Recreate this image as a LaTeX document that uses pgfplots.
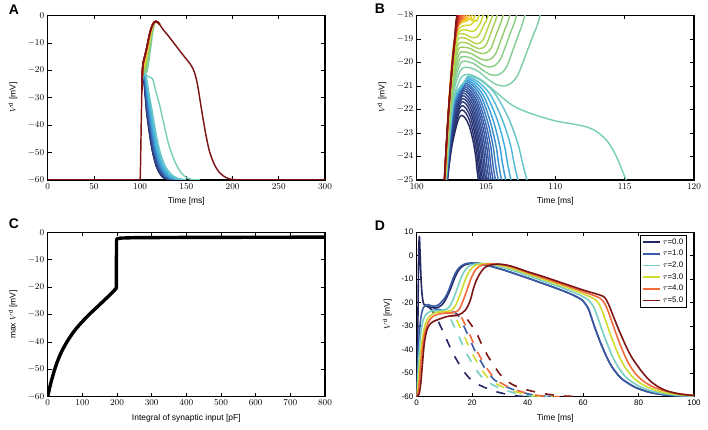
\documentclass[border=0pt]{standalone}
\usepackage{fontspec}
\setmainfont{Liberation Sans}
\usepackage{pgfplots}
\pgfplotsset{compat=1.18}
\pgfplotsset{colormap={jetlike}{rgb255(0cm)=(35,40,100) rgb255(2cm)=(58,92,168) rgb255(3.2cm)=(60,170,225) rgb255(4cm)=(118,207,192) rgb255(5cm)=(150,205,110) rgb255(6cm)=(207,220,46) rgb255(7cm)=(250,200,40) rgb255(8cm)=(242,107,58) rgb255(9cm)=(210,45,35) rgb255(10cm)=(125,20,22)}}
\pgfplotsset{
  cm/.style={color of colormap={#1 of jetlike}},
  cv/.style={smooth, tension=0.5, line width=1.45bp, line join=round},
  dv/.style={smooth, tension=0.5, line width=1.6bp, line join=round},
  panel/.style={scale only axis, width=277.3bp, height=164.5bp,
    axis line style={line width=1.3bp}, tick style={line width=0.7bp, black},
    major tick length=4bp, tick align=inside,
    label style={font=\fontsize{8.5}{10}\selectfont},
    tick label style={font=\fontsize{9}{10}\selectfont},
    xlabel style={at={(axis description cs:0.5,-0.132)}, anchor=center},
    ylabel style={at={(axis description cs:-0.125,0.5)}, anchor=center}},
}
\newcommand{\curvesAB}{%
\addplot[cv, cm=0] coordinates {(101.85,-27.5) (102.22,-25) (102.52,-23.63) (102.82,-22.8) (103.05,-22.36) (103.25,-22.25) (103.49,-22.36) (103.78,-22.69) (104.07,-23.35) (104.27,-24.07) (104.45,-25) (105.70,-30) (106.95,-35) (108.85,-40) (110.95,-45) (113.55,-50) (117.45,-55) (121.95,-58) (125.95,-59.3) (134.45,-60)};
\addplot[cv, cm=22] coordinates {(101.85,-27.5) (102.21,-25) (102.51,-23.51) (102.81,-22.62) (103.07,-22.14) (103.27,-22.02) (103.53,-22.14) (103.83,-22.50) (104.14,-23.21) (104.36,-23.99) (104.55,-25) (105.84,-30) (107.13,-35) (109.04,-40) (111.16,-45) (113.79,-50) (117.73,-55) (122.3,-58) (126.35,-59.3) (134.9,-60)};
\addplot[cv, cm=44] coordinates {(101.85,-27.5) (102.20,-25) (102.50,-23.42) (102.80,-22.46) (103.09,-21.96) (103.29,-21.83) (103.56,-21.96) (103.89,-22.34) (104.22,-23.10) (104.45,-23.92) (104.65,-25) (105.97,-30) (107.30,-35) (109.23,-40) (111.37,-45) (114.02,-50) (118.00,-55) (122.64,-58) (126.75,-59.3) (135.33,-60)};
\addplot[cv, cm=66] coordinates {(101.85,-27.5) (102.19,-25) (102.49,-23.34) (102.79,-22.34) (103.11,-21.80) (103.31,-21.67) (103.60,-21.80) (103.94,-22.20) (104.29,-23.00) (104.53,-23.87) (104.75,-25) (106.10,-30) (107.47,-35) (109.43,-40) (111.58,-45) (114.25,-50) (118.28,-55) (122.98,-58) (127.15,-59.3) (135.78,-60)};
\addplot[cv, cm=88] coordinates {(101.85,-27.5) (102.18,-25) (102.48,-23.27) (102.78,-22.22) (103.13,-21.67) (103.33,-21.53) (103.64,-21.67) (104.00,-22.09) (104.37,-22.92) (104.63,-23.82) (104.86,-25) (106.25,-30) (107.66,-35) (109.63,-40) (111.81,-45) (114.51,-50) (118.59,-55) (123.36,-58) (127.59,-59.3) (136.26,-60)};
\addplot[cv, cm=110] coordinates {(101.85,-27.5) (102.17,-25) (102.47,-23.21) (102.77,-22.13) (103.15,-21.55) (103.35,-21.41) (103.67,-21.55) (104.06,-21.98) (104.45,-22.85) (104.73,-23.78) (104.97,-25) (106.40,-30) (107.86,-35) (109.85,-40) (112.04,-45) (114.77,-50) (118.89,-55) (123.74,-58) (128.04,-59.3) (136.76,-60)};
\addplot[cv, cm=132] coordinates {(101.85,-27.5) (102.16,-25) (102.46,-23.15) (102.76,-22.04) (103.17,-21.45) (103.37,-21.30) (103.71,-21.45) (104.13,-21.89) (104.54,-22.78) (104.83,-23.74) (105.09,-25) (106.56,-30) (108.07,-35) (110.08,-40) (112.29,-45) (115.05,-50) (119.23,-55) (124.15,-58) (128.51,-59.3) (137.29,-60)};
\addplot[cv, cm=154] coordinates {(101.85,-27.5) (102.15,-25) (102.45,-23.10) (102.75,-21.96) (103.19,-21.35) (103.39,-21.20) (103.76,-21.35) (104.20,-21.81) (104.63,-22.72) (104.95,-23.71) (105.22,-25) (106.73,-30) (108.29,-35) (110.32,-40) (112.56,-45) (115.35,-50) (119.58,-55) (124.59,-58) (129.03,-59.3) (137.86,-60)};
\addplot[cv, cm=176] coordinates {(101.85,-27.5) (102.15,-25) (102.45,-23.06) (102.75,-21.89) (103.21,-21.27) (103.41,-21.11) (103.80,-21.27) (104.27,-21.73) (104.74,-22.67) (105.07,-23.68) (105.36,-25) (106.92,-30) (108.54,-35) (110.59,-40) (112.85,-45) (115.68,-50) (119.97,-55) (125.07,-58) (129.59,-59.3) (138.48,-60)};
\addplot[cv, cm=198] coordinates {(101.85,-27.5) (102.14,-25) (102.44,-23.02) (102.74,-21.82) (103.24,-21.19) (103.44,-21.03) (103.85,-21.19) (104.35,-21.67) (104.85,-22.62) (105.20,-23.65) (105.51,-25) (107.12,-30) (108.80,-35) (110.88,-40) (113.16,-45) (116.03,-50) (120.39,-55) (125.59,-58) (130.19,-59.3) (139.15,-60)};
\addplot[cv, cm=222] coordinates {(101.85,-27.5) (102.14,-25) (102.44,-22.98) (102.74,-21.76) (103.27,-21.11) (103.47,-20.95) (103.91,-21.11) (104.44,-21.60) (104.97,-22.57) (105.35,-23.62) (105.68,-25) (107.35,-30) (109.09,-35) (111.20,-40) (113.51,-45) (116.43,-50) (120.86,-55) (126.16,-58) (130.87,-59.3) (139.89,-60)};
\addplot[cv, cm=248] coordinates {(101.85,-27.5) (102.13,-25) (102.43,-22.94) (102.73,-21.70) (103.30,-21.04) (103.50,-20.88) (103.98,-21.05) (104.55,-21.54) (105.12,-22.53) (105.52,-23.60) (105.88,-25) (107.62,-30) (109.44,-35) (111.59,-40) (113.93,-45) (116.90,-50) (121.42,-55) (126.86,-58) (131.68,-59.3) (140.79,-60)};
\addplot[cv, cm=274] coordinates {(101.85,-27.5) (102.13,-25) (102.43,-22.91) (102.73,-21.65) (103.34,-20.98) (103.54,-20.81) (104.06,-20.98) (104.68,-21.48) (105.29,-22.49) (105.73,-23.58) (106.12,-25) (107.94,-30) (109.86,-35) (112.05,-40) (114.43,-45) (117.46,-50) (122.08,-55) (127.68,-58) (132.63,-59.3) (141.84,-60)};
\addplot[cv, cm=300] coordinates {(101.85,-27.5) (102.12,-25) (102.42,-22.88) (102.72,-21.60) (103.38,-20.92) (103.58,-20.75) (104.15,-20.92) (104.83,-21.43) (105.51,-22.45) (105.99,-23.56) (106.42,-25) (108.35,-30) (110.38,-35) (112.62,-40) (115.06,-45) (118.17,-50) (122.91,-55) (128.71,-58) (133.83,-59.3) (143.18,-60)};
\addplot[cv, cm=326] coordinates {(101.85,-27.5) (102.12,-25) (102.42,-22.85) (102.72,-21.55) (103.43,-20.86) (103.63,-20.69) (104.26,-20.86) (105.03,-21.38) (105.79,-22.41) (106.33,-23.54) (106.80,-25) (108.86,-30) (111.05,-35) (113.35,-40) (115.85,-45) (119.05,-50) (123.96,-55) (130.00,-58) (135.35,-59.3) (144.85,-60)};
\addplot[cv, cm=352] coordinates {(101.85,-27.5) (102.11,-25) (102.41,-22.82) (102.71,-21.50) (103.48,-20.80) (103.68,-20.63) (104.40,-20.81) (105.27,-21.33) (106.14,-22.38) (106.76,-23.51) (107.30,-25) (109.53,-30) (111.92,-35) (114.31,-40) (116.89,-45) (120.23,-50) (125.35,-55) (131.72,-58) (137.35,-59.3) (147.07,-60)};
\addplot[cv, cm=378] coordinates {(101.85,-27.5) (102.11,-25) (102.41,-22.79) (102.71,-21.46) (103.54,-20.75) (103.74,-20.57) (104.58,-20.75) (105.59,-21.28) (106.60,-22.34) (107.32,-23.50) (107.95,-25) (110.40,-30) (113.05,-35) (115.55,-40) (118.25,-45) (121.75,-50) (127.15,-55) (133.95,-58) (139.95,-59.3) (149.95,-60)};
\addplot[cv, cm=410] coordinates {(101.85,-27.5) (102.10,-25) (102.40,-22.77) (102.70,-21.43) (103.2,-20.65) (103.7,-20.5) (104.3,-20.62) (104.8,-20.8) (105.4,-21.1) (106.0,-21.4) (106.6,-21.7) (107.2,-21.92) (108,-22.12) (108.9,-22.3) (110.1,-22.5) (111.3,-22.62) (112.3,-22.75) (113.0,-22.95) (113.75,-23.35) (114.4,-24.0) (115.1,-25) (116.5,-27) (118.5,-29.5) (121,-32.5) (123,-35.5) (125,-38.5) (127,-41.5) (129,-44.5) (132,-48.3) (136,-52) (140,-55) (145,-57.6) (150,-59.1) (156,-59.8) (165,-60)};
\addplot[cv, cm=430] coordinates {(101.85,-27.5) (102.10,-25) (102.40,-22.6) (102.70,-21.16) (103.15,-20.35) (103.6,-20.2) (104.38,-20.36) (105.16,-20.72) (105.68,-20.92) (106.2,-21.0) (106.74,-20.91) (107.28,-20.55) (107.82,-19.74) (108.36,-18.9) (108.9,-18.0) (110.18,-14.8) (111.39,-11.9) (112.61,-8.6) (113.82,-5.7) (115.04,-3.7) (116.25,-2.5) (117.47,-2.1) (119.5,-2.6) (121,-3.2)};
\addplot[cv, cm=450] coordinates {(101.85,-27.5) (102.09,-25) (102.39,-22.48) (102.69,-20.96) (103.15,-20.05) (103.55,-19.95) (104.17,-20.07) (104.8,-20.34) (105.21,-20.49) (105.63,-20.55) (106.06,-20.47) (106.5,-20.17) (106.93,-19.48) (107.37,-18.77) (107.8,-18.0) (109.23,-14.8) (110.59,-11.9) (111.95,-8.6) (113.31,-5.7) (114.67,-3.7) (116.02,-2.5) (117.38,-2.1) (119.5,-2.6) (121,-3.2)};
\addplot[cv, cm=470] coordinates {(101.85,-27.5) (102.08,-25) (102.38,-22.38) (102.68,-20.8) (103.1,-19.85) (103.5,-19.75) (104.03,-19.84) (104.56,-20.04) (104.92,-20.15) (105.27,-20.19) (105.66,-20.12) (106.04,-19.86) (106.43,-19.27) (106.81,-18.66) (107.2,-18.0) (108.71,-14.8) (110.15,-11.9) (111.59,-8.6) (113.02,-5.7) (114.46,-3.7) (115.90,-2.5) (117.34,-2.1) (119.5,-2.6) (121,-3.2)};
\addplot[cv, cm=490] coordinates {(101.85,-27.5) (102.07,-25) (102.37,-22.28) (102.67,-20.64) (103.05,-19.65) (103.45,-19.55) (103.92,-19.62) (104.4,-19.78) (104.71,-19.87) (105.03,-19.9) (105.37,-19.84) (105.7,-19.62) (106.04,-19.1) (106.37,-18.57) (106.71,-18.0) (108.29,-14.8) (109.79,-11.9) (111.29,-8.6) (112.79,-5.7) (114.30,-3.7) (115.80,-2.5) (117.30,-2.1) (119.5,-2.6) (121,-3.2)};
\addplot[cv, cm=510] coordinates {(101.85,-27.5) (102.06,-25) (102.36,-22.18) (102.66,-20.48) (103.0,-19.45) (103.4,-19.35) (103.82,-19.4) (104.23,-19.53) (104.51,-19.59) (104.79,-19.62) (105.08,-19.57) (105.37,-19.38) (105.65,-18.94) (105.94,-18.49) (106.23,-18.0) (107.87,-14.8) (109.44,-11.9) (111.00,-8.6) (112.57,-5.7) (114.13,-3.7) (115.70,-2.5) (117.26,-2.1) (119.5,-2.6) (121,-3.2)};
\addplot[cv, cm=530] coordinates {(101.85,-27.5) (102.06,-25) (102.36,-22.08) (102.66,-20.32) (102.98,-19.25) (103.38,-19.15) (103.73,-19.2) (104.08,-19.32) (104.32,-19.38) (104.55,-19.41) (104.8,-19.37) (105.05,-19.2) (105.3,-18.82) (105.55,-18.42) (105.8,-18.0) (107.50,-14.8) (109.12,-11.9) (110.74,-8.6) (112.37,-5.7) (113.99,-3.7) (115.61,-2.5) (117.23,-2.1) (119.5,-2.6) (121,-3.2)};
\addplot[cv, cm=550] coordinates {(101.85,-27.5) (102.05,-25) (102.35,-21.98) (102.65,-20.16) (102.95,-19.05) (103.35,-18.95) (103.65,-19.0) (103.96,-19.11) (104.16,-19.18) (104.36,-19.2) (104.58,-19.16) (104.8,-19.02) (105.02,-18.7) (105.24,-18.36) (105.46,-18.0) (107.21,-14.8) (108.87,-11.9) (110.54,-8.6) (112.21,-5.7) (113.87,-3.7) (115.54,-2.5) (117.20,-2.1) (119.5,-2.6) (121,-3.2)};
\addplot[cv, cm=570] coordinates {(101.85,-27.5) (102.05,-25) (102.35,-21.89) (102.65,-20.02) (102.92,-18.88) (103.3,-18.78) (103.54,-18.81) (103.78,-18.89) (103.94,-18.93) (104.1,-18.95) (104.31,-18.92) (104.52,-18.81) (104.73,-18.55) (104.94,-18.29) (105.15,-18.0) (106.94,-14.8) (108.65,-11.9) (110.35,-8.6) (112.06,-5.7) (113.76,-3.7) (115.47,-2.5) (117.18,-2.1) (119.5,-2.6) (121,-3.2)};
\addplot[cv, cm=590] coordinates {(101.85,-27.5) (102.04,-25) (102.34,-21.8) (102.64,-19.9) (102.9,-18.85) (103.25,-18.62) (103.6,-18.62) (103.95,-18.68) (104.25,-18.62) (104.5,-18.4) (104.79,-18.0) (106.63,-14.8) (108.38,-11.9) (110.14,-8.6) (111.89,-5.7) (113.64,-3.7) (115.40,-2.5) (117.15,-2.1) (119.5,-2.6) (121,-3.2)};
\addplot[cv, cm=615] coordinates {(101.85,-27.5) (102.04,-25) (102.34,-21.75) (102.64,-19.8) (102.9,-18.75) (103.2,-18.48) (103.55,-18.42) (103.9,-18.4) (104.2,-18.2) (104.5,-18.0) (106.38,-14.8) (108.17,-11.9) (109.96,-8.6) (111.75,-5.7) (113.54,-3.7) (115.33,-2.5) (117.13,-2.1) (119.5,-2.6) (121,-3.2)};
\addplot[cv, cm=640] coordinates {(101.85,-27.5) (102.03,-25) (102.33,-21.65) (102.63,-19.65) (102.88,-18.6) (103.2,-18.32) (103.55,-18.25) (103.9,-18.12) (104.2,-18.0) (106.12,-14.8) (107.95,-11.9) (109.78,-8.6) (111.61,-5.7) (113.44,-3.7) (115.27,-2.5) (117.10,-2.1) (119.5,-2.6) (121,-3.2)};
\addplot[cv, cm=670] coordinates {(101.85,-27.5) (102.03,-25) (102.33,-21.65) (102.63,-19.5) (102.9,-18.45) (103.25,-18.26) (103.65,-18.2) (104.0,-18.0) (104.56,-16.8) (105.95,-14.8) (107.81,-11.9) (109.66,-8.6) (111.52,-5.7) (113.37,-3.7) (115.23,-2.5) (117.09,-2.1) (119.5,-2.6) (121,-3.2)};
\addplot[cv, cm=700] coordinates {(101.85,-27.5) (102.03,-25) (102.33,-21.7) (102.63,-19.45) (102.92,-18.38) (103.3,-18.22) (103.8,-18.0) (104.37,-16.8) (105.78,-14.8) (107.66,-11.9) (109.54,-8.6) (111.42,-5.7) (113.31,-3.7) (115.19,-2.5) (117.07,-2.1) (119.5,-2.6) (121,-3.2)};
\addplot[cv, cm=730] coordinates {(101.85,-27.5) (102.02,-25) (102.32,-21.75) (102.62,-19.5) (102.92,-18.4) (103.25,-18.2) (103.62,-18.0) (104.19,-16.8) (105.62,-14.8) (107.53,-11.9) (109.43,-8.6) (111.34,-5.7) (113.24,-3.7) (115.15,-2.5) (117.06,-2.1) (119.5,-2.6) (121,-3.2)};
\addplot[cv, cm=760] coordinates {(101.85,-27.5) (102.02,-25) (102.32,-21.8) (102.62,-19.6) (102.92,-18.45) (103.2,-18.2) (103.47,-18.0) (104.05,-16.8) (105.49,-14.8) (107.42,-11.9) (109.34,-8.6) (111.27,-5.7) (113.19,-3.7) (115.12,-2.5) (117.04,-2.1) (119.5,-2.6) (121,-3.2)};
\addplot[cv, cm=790] coordinates {(101.85,-27.5) (102.02,-25) (102.32,-21.9) (102.62,-19.75) (102.92,-18.55) (103.35,-18.0) (103.93,-16.8) (105.39,-14.8) (107.33,-11.9) (109.27,-8.6) (111.21,-5.7) (113.15,-3.7) (115.09,-2.5) (117.04,-2.1) (119.5,-2.6) (121,-3.2)};
\addplot[cv, cm=820] coordinates {(101.85,-27.5) (102.01,-25) (102.31,-22.0) (102.6,-19.9) (102.88,-18.65) (103.24,-18.0) (103.83,-16.8) (105.29,-14.8) (107.25,-11.9) (109.21,-8.6) (111.16,-5.7) (113.12,-3.7) (115.07,-2.5) (117.03,-2.1) (119.5,-2.6) (121,-3.2)};
\addplot[cv, cm=850] coordinates {(101.85,-27.5) (102.01,-25) (102.3,-22.1) (102.58,-20.05) (102.84,-18.75) (103.14,-18.0) (103.73,-16.8) (105.21,-14.8) (107.18,-11.9) (109.14,-8.6) (111.11,-5.7) (113.08,-3.7) (115.05,-2.5) (117.02,-2.1) (119.5,-2.6) (121,-3.2)};
\addplot[cv, cm=880] coordinates {(101.85,-27.5) (102.01,-25) (102.29,-22.2) (102.56,-20.2) (102.8,-18.85) (103.06,-18.0) (103.65,-16.8) (105.14,-14.8) (107.12,-11.9) (109.10,-8.6) (111.08,-5.7) (113.05,-3.7) (115.03,-2.5) (117.01,-2.1) (119.5,-2.6) (121,-3.2)};
\addplot[cv, cm=910] coordinates {(101.85,-27.5) (102.0,-25) (102.28,-22.25) (102.54,-20.3) (102.77,-18.95) (103.0,-18.0) (103.60,-16.8) (105.09,-14.8) (107.07,-11.9) (109.06,-8.6) (111.05,-5.7) (113.03,-3.7) (115.02,-2.5) (117.01,-2.1) (119.5,-2.6) (121,-3.2)};
\addplot[cv, cm=940] coordinates {(101.85,-27.5) (102.0,-25) (102.27,-22.3) (102.52,-20.4) (102.75,-19.0) (102.95,-18.0) (103.55,-16.8) (105.04,-14.8) (107.04,-11.9) (109.03,-8.6) (111.02,-5.7) (113.02,-3.7) (115.01,-2.5) (117.0,-2.1) (119.5,-2.6) (121,-3.2)};
\addplot[cv, cm=970] coordinates {(101.85,-27.5) (102.0,-25) (102.26,-22.35) (102.51,-20.45) (102.73,-19.05) (102.92,-18.0) (103.52,-16.8) (105.02,-14.8) (107.01,-11.9) (109.01,-8.6) (111.01,-5.7) (113.01,-3.7) (115.0,-2.5) (117.0,-2.1) (119.5,-2.6) (121,-3.2)};
\addplot[line width=1.45bp, cm=1000] coordinates {(0,-60) (100,-60)};
\addplot[line width=1.45bp, cm=1000] coordinates {(210,-60) (300,-60)};
\addplot[cv, cm=1000] coordinates {(100,-60) (100.4,-55) (100.8,-47) (101.2,-39) (101.6,-31.5) (101.85,-27.5) (101.99,-25) (102.25,-22.4) (102.5,-20.5) (102.72,-19.1) (102.9,-18.0) (103.5,-16.8) (105.0,-14.8) (107.0,-11.9) (109.0,-8.6) (111.0,-5.7) (113.0,-3.7) (115.0,-2.5) (117.0,-2.1) (119.5,-2.6) (121,-3.2) (125,-5.2) (130,-7.2) (135,-9.4) (140,-11.6) (145,-13.8) (150,-15.9) (154,-17.6) (157,-19.3) (159,-21) (161,-23.5) (163,-27) (165,-31.3) (167,-35.5) (169,-39.5) (171,-43.3) (173,-46.6) (175,-49.5) (178,-52.5) (181,-54.8) (185,-56.9) (190,-58.5) (195,-59.4) (200,-59.8) (210,-60)};
}
\begin{document}
\begin{tikzpicture}
\useasboundingbox (0,0) rectangle (708bp,430bp);
% A
\begin{axis}[panel, at={(47.7bp,250bp)}, anchor=south west,
  xmin=0, xmax=300, ymin=-60, ymax=0,
  xtick={0,50,...,300}, ytick={-60,-50,...,0},
  xlabel={Time [ms]}, ylabel={$V^{\mathrm{d}}$ [mV]}]
\curvesAB
\end{axis}
% B
\begin{axis}[panel, at={(416.7bp,250bp)}, anchor=south west,
  xmin=100, xmax=120, ymin=-25, ymax=-18,
  xtick={100,105,...,120}, ytick={-25,-24,...,-18},
  xlabel={Time [ms]}, ylabel={$V^{\mathrm{d}}$ [mV]}]
\curvesAB
\end{axis}
% C
\begin{axis}[panel, at={(47.7bp,33.3bp)}, anchor=south west,
  xmin=0, xmax=800, ymin=-60, ymax=0,
  xtick={0,100,...,800}, ytick={-60,-50,...,0},
  xlabel={Integral of synaptic input [pF]}, ylabel={max $V^{\mathrm{d}}$ [mV]}]
\addplot[black, line width=3.4bp, line join=round, line cap=round, smooth, tension=0.5] coordinates {(0,-60) (5,-57.1) (10,-54.5) (20,-50.1) (30,-46.5) (40,-43.6) (50,-41.2) (60,-39.1) (70,-37.2) (80,-35.5) (90,-34.0) (100,-32.6) (120,-30.0) (140,-27.6) (160,-25.2) (180,-22.8) (196,-20.7) (198,-20.5)};
\addplot[black, line width=3.4bp, line join=round, line cap=round] coordinates {(198,-20.5) (198.5,-3.0) (200,-2.4) (210,-2.15) (250,-2.0) (400,-1.9) (800,-1.8)};
\end{axis}
% D
\begin{axis}[panel, at={(416.7bp,33.3bp)}, anchor=south west,
  xmin=0, xmax=100, ymin=-60, ymax=10,
  xtick={0,20,...,100}, ytick={-60,-50,...,10},
  tick label style={font=\fontsize{8}{9}\selectfont},
  /pgf/number format/assume math mode=true,
  ylabel style={at={(axis description cs:-0.106,0.5)}, anchor=center},
  xlabel={Time [ms]}, ylabel={$V^{\mathrm{d}}$ [mV]},
  legend image post style={line width=1.6bp},
  legend style={at={(rel axis cs:0.976,0.985)}, anchor=north east, draw=black, very thick, font=\fontsize{8}{9}\selectfont, cells={anchor=west}, row sep=0.6bp, inner sep=1.5bp}]
\addplot[dv, cm=0, forget plot, dash pattern=on 9bp off 10bp] coordinates {(4,-21.6) (5.4,-23) (6.4,-25) (7.4,-27) (8.4,-29.5) (9.4,-32) (10.4,-34.6) (11.4,-37.3) (12.4,-40) (13.4,-42.3) (14.4,-44.3) (15.4,-46.3) (17,-49.3) (19.6,-52.8) (22.4,-54.9) (26.4,-57) (29.4,-58.1) (33.4,-59.2) (37.4,-59.8) (42.4,-60)};
\addplot[dv, cm=200, forget plot, dash pattern=on 9bp off 10bp] coordinates {(6,-22.5) (10,-23.3) (13.8,-24.2) (14.8,-25) (15.8,-27) (16.8,-29.5) (17.8,-32) (18.8,-34.6) (19.8,-37.3) (20.8,-40) (21.8,-42.3) (22.8,-44.3) (23.8,-46.3) (25.4,-49.3) (28,-52.8) (30.8,-54.9) (34.8,-57) (37.8,-58.1) (41.8,-59.2) (45.8,-59.8) (50.8,-60)};
\addplot[dv, cm=400, forget plot, dash pattern=on 9bp off 10bp] coordinates {(7,-23.4) (9,-23.4) (10.3,-23.8) (11.3,-25) (12.3,-27) (13.3,-29.5) (14.3,-32) (15.3,-34.6) (16.3,-37.3) (17.3,-40) (18.3,-42.3) (19.3,-44.3) (20.3,-46.3) (21.9,-49.3) (24.5,-52.8) (27.3,-54.9) (31.3,-57) (34.3,-58.1) (38.3,-59.2) (42.3,-59.8) (47.3,-60)};
\addplot[dv, cm=600, forget plot, dash pattern=on 9bp off 10bp] coordinates {(9,-24) (11,-23.8) (12.3,-24.2) (13.3,-25) (14.3,-27) (15.3,-29.5) (16.3,-32) (17.3,-34.6) (18.3,-37.3) (19.3,-40) (20.3,-42.3) (21.3,-44.3) (22.3,-46.3) (23.9,-49.3) (26.5,-52.8) (29.3,-54.9) (33.3,-57) (36.3,-58.1) (40.3,-59.2) (44.3,-59.8) (49.3,-60)};
\addplot[dv, cm=800, forget plot, dash pattern=on 9bp off 10bp] coordinates {(10,-24.5) (13,-24.3) (14.5,-24.4) (15.5,-25) (16.5,-27) (17.5,-29.5) (18.5,-32) (19.5,-34.6) (20.5,-37.3) (21.5,-40) (22.5,-42.3) (23.5,-44.3) (24.5,-46.3) (26.1,-49.3) (28.7,-52.8) (31.5,-54.9) (35.5,-57) (38.5,-58.1) (42.5,-59.2) (46.5,-59.8) (51.5,-60)};
\addplot[dv, cm=1000, forget plot, dash pattern=on 9bp off 10bp] coordinates {(12,-25.6) (15,-25.4) (17,-25.6) (18,-26.8) (19,-28.3) (20,-30) (21,-31.6) (22,-33.9) (23,-36.6) (24,-38.9) (25,-41.3) (26,-43.4) (27,-45.1) (28,-46.8) (29.4,-49.5) (31.8,-52.6) (34.5,-54.8) (37.4,-56.3) (40.4,-57.3) (44,-58.3) (48,-59.1) (53,-59.7) (60,-60)};
\addplot[dv, cm=0] coordinates {(0,-60) (0.4,-30) (0.7,0) (0.95,8.2) (1.2,2) (1.5,-8) (1.9,-16) (2.5,-20.5) (3.5,-21.5) (5,-21.9) (6.5,-22.2) (8,-21.8) (9,-21) (10,-19.5) (11,-17.3) (12,-14.7) (13,-11.6) (14,-8.6) (15,-6.4) (16,-5) (17,-4.1) (18.5,-3.5) (20,-3.2) (22,-3.2) (24,-3.6) (26,-4.2) (28,-4.9) (32,-6.3) (36,-7.9) (40,-9.5) (45,-11.6) (50,-13.7) (55,-16.0) (58.5,-18) (60,-19.3) (61,-20.8) (62,-22.8) (63,-26.2) (64,-29.8) (65,-33) (66,-36.2) (67,-39) (68,-41.8) (69,-44.3) (70,-46.5) (71,-48.3) (72.5,-50.6) (74,-52.4) (76,-54.1) (79,-56.1) (83,-57.8) (87,-58.8) (92,-59.5) (100,-59.9)};
\addlegendentry{$\tau$=0.0}
\addplot[dv, cm=200] coordinates {(0,-60) (0.3,-50) (0.6,-40) (1,-32) (1.5,-26.5) (2,-23.5) (2.5,-22) (3,-21.2) (4,-20.8) (5,-21.2) (6,-21.5) (7,-21.3) (8,-20.8) (9,-19.6) (10,-18.2) (11,-16.2) (12,-13.3) (13,-10) (14,-7.3) (15,-5.5) (16,-4.4) (17,-3.7) (18,-3.3) (19.5,-3.1) (21,-3.2) (23,-3.6) (25,-4.1) (28,-4.9) (32,-6.3) (36,-7.9) (40,-9.5) (45,-11.6) (50,-13.7) (55,-16.0) (58.5,-18) (60,-19.3) (61,-20.8) (62,-22.8) (63,-26.2) (64,-29.8) (65,-33) (66,-36.2) (67,-39) (68,-41.8) (69,-44.3) (70,-46.5) (71,-48.3) (72.5,-50.6) (74,-52.4) (76,-54.1) (79,-56.1) (83,-57.8) (87,-58.8) (92,-59.5) (100,-59.9)};
\addlegendentry{$\tau$=1.0}
\addplot[dv, cm=400] coordinates {(0,-60) (0.4,-52) (0.8,-43) (1.2,-36) (1.7,-31) (2.2,-28) (3,-25.5) (4,-24.3) (5,-23.6) (6,-23.4) (8,-23.4) (10,-23.0) (10.8,-22.7) (11.8,-21.7) (12.8,-19.5) (13.8,-16.6) (14.8,-13.3) (15.8,-10) (16.8,-7.4) (17.8,-5.6) (18.8,-4.5) (19.8,-3.9) (21.8,-3.4) (23.5,-3.3) (26,-3.6) (28,-4.1) (32,-5.3) (36,-6.8) (40,-8.4) (45,-10.5) (50,-12.6) (55,-14.8) (60,-17.4) (62,-19.0) (63,-20.3) (64,-22.3) (65,-25.3) (66,-28.8) (67,-32.2) (68,-35.4) (69,-38.4) (70,-41.3) (71,-43.9) (72,-46.1) (73,-48) (74.5,-50.4) (76,-52.3) (78,-54) (81,-56) (85,-57.7) (89,-58.7) (94,-59.4) (100,-59.8)};
\addlegendentry{$\tau$=2.0}
\addplot[dv, cm=600] coordinates {(0,-60) (0.5,-55) (1,-47) (1.5,-40.5) (2,-35.5) (3,-29.5) (4,-26.8) (5,-25.4) (6,-24.6) (8,-24) (10,-23.8) (12,-23.4) (12.6,-23.1) (13.6,-22) (14.6,-19.6) (15.6,-16.6) (16.6,-13.3) (17.6,-10) (18.6,-7.4) (19.6,-5.6) (20.6,-4.5) (21.6,-3.9) (23.6,-3.5) (26,-3.4) (28,-3.7) (32,-4.7) (36,-6.1) (40,-7.7) (45,-9.8) (50,-11.8) (55,-13.9) (60,-16.2) (64.2,-18.5) (65.2,-19.6) (66.2,-21.6) (67.2,-24.5) (68.2,-27.9) (69.2,-31.3) (70.2,-34.6) (71.2,-37.7) (72.2,-40.6) (73.2,-43.3) (74.2,-45.6) (75.2,-47.6) (76.7,-50) (78.2,-52) (80.2,-53.9) (83.2,-55.9) (87.2,-57.6) (91.2,-58.6) (96,-59.3) (100,-59.6)};
\addlegendentry{$\tau$=3.0}
\addplot[dv, cm=800] coordinates {(0,-60) (0.5,-58) (1,-53) (1.5,-46) (2,-40) (2.5,-35.5) (3,-32.5) (4,-28.8) (5,-26.8) (6,-25.7) (8,-24.8) (10,-24.5) (12,-24.3) (14,-23.9) (14.5,-23.7) (15.5,-22.5) (16.5,-19.8) (17.5,-16.7) (18.5,-13.3) (19.5,-10) (20.5,-7.4) (21.5,-5.6) (22.5,-4.6) (23.5,-4.0) (25.5,-3.6) (28,-3.5) (30,-3.7) (34,-4.7) (40,-7.2) (45,-9.2) (50,-11.2) (55,-13.2) (60,-15.3) (64,-17.0) (66,-18) (67,-19) (68,-20.8) (69,-23.5) (70,-26.8) (71,-30.2) (72,-33.5) (73,-36.7) (74,-39.6) (75,-42.4) (76,-44.9) (77,-47) (78.5,-49.6) (80,-51.6) (82,-53.6) (85,-55.7) (89,-57.4) (93,-58.4) (97,-59.1) (100,-59.4)};
\addlegendentry{$\tau$=4.0}
\addplot[dv, cm=1000] coordinates {(0,-60) (0.8,-59) (1.4,-55) (2,-47) (2.5,-40) (2.9,-36) (3.7,-31.5) (4.7,-29.3) (6,-28) (7.7,-27.2) (9.5,-26.4) (11.3,-25.8) (13,-25.5) (14.9,-25.2) (16.5,-24.3) (17.5,-23.2) (18.5,-21.3) (19.5,-18.3) (20.5,-13.8) (21.5,-10.5) (22.5,-8.2) (23.5,-6.4) (24.5,-5.1) (25.7,-4.3) (27.5,-3.8) (30,-3.6) (34,-4.4) (40,-6.8) (44.4,-8.4) (50,-10.6) (55,-12.6) (60,-14.6) (64,-16) (66,-16.7) (67.3,-17.3) (68.3,-18.6) (69.5,-21.5) (70.7,-25.2) (72.1,-29.3) (73,-31.9) (74,-34.6) (75,-37.3) (76,-39.8) (77,-42.1) (78,-44.1) (79.3,-46.3) (81.5,-49.8) (84.1,-53.2) (87,-55.7) (90.1,-57.5) (95,-58.9) (100,-59.5)};
\addlegendentry{$\tau$=5.0}
\end{axis}
\node[font=\fontsize{14}{14}\selectfont\bfseries] at (14bp,420bp) {A};
\node[font=\fontsize{14}{14}\selectfont\bfseries] at (380bp,421bp) {B};
\node[font=\fontsize{14}{14}\selectfont\bfseries] at (14bp,206bp) {C};
\node[font=\fontsize{14}{14}\selectfont\bfseries] at (380bp,204.5bp) {D};
\end{tikzpicture}
\end{document}
